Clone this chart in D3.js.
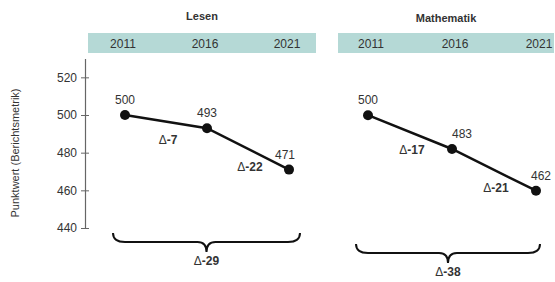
<!DOCTYPE html>
<html>
<head>
<meta charset="utf-8">
<script src="https://cdn.jsdelivr.net/npm/d3@7"></script>
<style>
  body { margin: 0; background: #fff; }
  text { font-family: "Liberation Sans", Arial, sans-serif; fill: #333; }
</style>
</head>
<body>
<svg id="chart" width="555" height="282"></svg>
<script>
// data
var years = ["2011", "2016", "2021"];
var subjects = ["Lesen", "Mathematik"];
var lesen = [500, 493, 471];
var mathe = [500, 483, 462];
var yTicks = [440, 460, 480, 500, 520];

var svg = d3.select("#chart");

// shared look
var band = "#b5d9d6";

function panel(title, values, opt) {
  var x = d3.scalePoint().domain(years).range(opt.xr);
  var y = d3.scaleLinear().domain([440, 530]).range(opt.yr);

  var g = svg.append("g");

  // title
  g.append("text")
    .attr("x", (opt.band[0] + opt.band[1]) / 2)
    .attr("y", opt.titleY)
    .attr("text-anchor", "middle")
    .style("font-size", "11px")
    .style("font-weight", "bold")
    .text(title);

  // year band
  g.append("rect")
    .attr("x", opt.band[0]).attr("y", 33)
    .attr("width", opt.band[1] - opt.band[0]).attr("height", 20)
    .attr("fill", band);

  g.selectAll(".yr")
    .data(years)
    .enter().append("text")
    .attr("x", function(d) { return x(d) + opt.yrShift; })
    .attr("y", 48)
    .attr("text-anchor", "middle")
    .style("font-size", "12px")
    .text(function(d) { return d; });

  if (opt.axis) {
    var yAxis = d3.axisLeft(y).tickValues(yTicks).tickSize(0).tickPadding(8);
    var ax = g.append("g")
      .attr("transform", "translate(" + opt.axisX + ",0)")
      .call(yAxis);
    ax.select(".domain").attr("stroke", "#666").attr("stroke-width", 1.2);
    ax.selectAll(".tick line")
      .attr("x1", -4).attr("x2", 4)
      .attr("stroke", "#666");
    ax.selectAll(".tick text")
      .style("font-size", "12px")
      .style("font-family", "'Liberation Sans', Arial, sans-serif")
      .attr("fill", "#333");
  }

  var pts = values.map(function(v, i) { return { yr: years[i], v: v }; });

  var line = d3.line()
    .x(function(d) { return x(d.yr); })
    .y(function(d) { return y(d.v); });

  g.append("path")
    .datum(pts)
    .attr("d", line)
    .attr("fill", "none")
    .attr("stroke", "#111")
    .attr("stroke-width", 2.5);

  g.selectAll(".dot")
    .data(pts)
    .enter().append("circle")
    .attr("cx", function(d) { return x(d.yr); })
    .attr("cy", function(d) { return y(d.v); })
    .attr("r", 5)
    .attr("fill", "#111");

  // value labels
  g.selectAll(".val")
    .data(pts)
    .enter().append("text")
    .attr("x", function(d, i) { return x(d.yr) + opt.valDx[i]; })
    .attr("y", function(d) { return y(d.v) - 11; })
    .attr("text-anchor", "middle")
    .style("font-size", "12px")
    .text(function(d) { return d.v; });

  // deltas between neighbours
  var segs = d3.pairs(pts);
  segs.forEach(function(s) {
    var mx = (x(s[0].yr) + x(s[1].yr)) / 2;
    var my = (y(s[0].v) + y(s[1].v)) / 2;
    var t = g.append("text")
      .attr("x", mx + 2)
      .attr("y", my + 22)
      .attr("text-anchor", "middle")
      .style("font-size", "12px");
    t.append("tspan").text("\u0394");
    t.append("tspan").style("font-weight", "bold").text(s[1].v - s[0].v);
  });

  // brace under the panel
  var x0 = x(years[0]) - 12, x1 = x(years[2]) + opt.braceR;
  var top = opt.braceY, h = top + 9, tip = h + 10, mid = (x0 + x1) / 2;
  var p = d3.path();
  p.moveTo(x0, top);
  p.quadraticCurveTo(x0, h, x0 + 12, h);
  p.lineTo(mid - 9, h);
  p.quadraticCurveTo(mid, h, mid, tip);
  p.quadraticCurveTo(mid, h, mid + 9, h);
  p.lineTo(x1 - 12, h);
  p.quadraticCurveTo(x1, h, x1, top);
  g.append("path")
    .attr("d", p.toString())
    .attr("fill", "none")
    .attr("stroke", "#111")
    .attr("stroke-width", 2);

  var dt = g.append("text")
    .attr("x", mid)
    .attr("y", tip + 13)
    .attr("text-anchor", "middle")
    .style("font-size", "12px");
  dt.append("tspan").text("\u0394");
  dt.append("tspan").style("font-weight", "bold").text(values[2] - values[0]);
}

panel(subjects[0], lesen, {
  xr: [125, 289], yr: [228, 58.5], band: [88, 316], titleY: 20,
  yrShift: -2, axis: true, axisX: 85, valDx: [0, 0, -4], braceY: 233, braceR: 11
});

panel(subjects[1], mathe, {
  xr: [368, 536], yr: [234.5, 55.5], band: [338, 554], titleY: 22,
  yrShift: 3, axis: false, valDx: [0, 10, 5], braceY: 244, braceR: 4
});

// y axis title
svg.append("text")
  .attr("transform", "translate(19,153) rotate(-90)")
  .attr("text-anchor", "middle")
  .style("font-size", "11px")
  .text("Punktwert (Berichtsmetrik)");
</script>
</body>
</html>
